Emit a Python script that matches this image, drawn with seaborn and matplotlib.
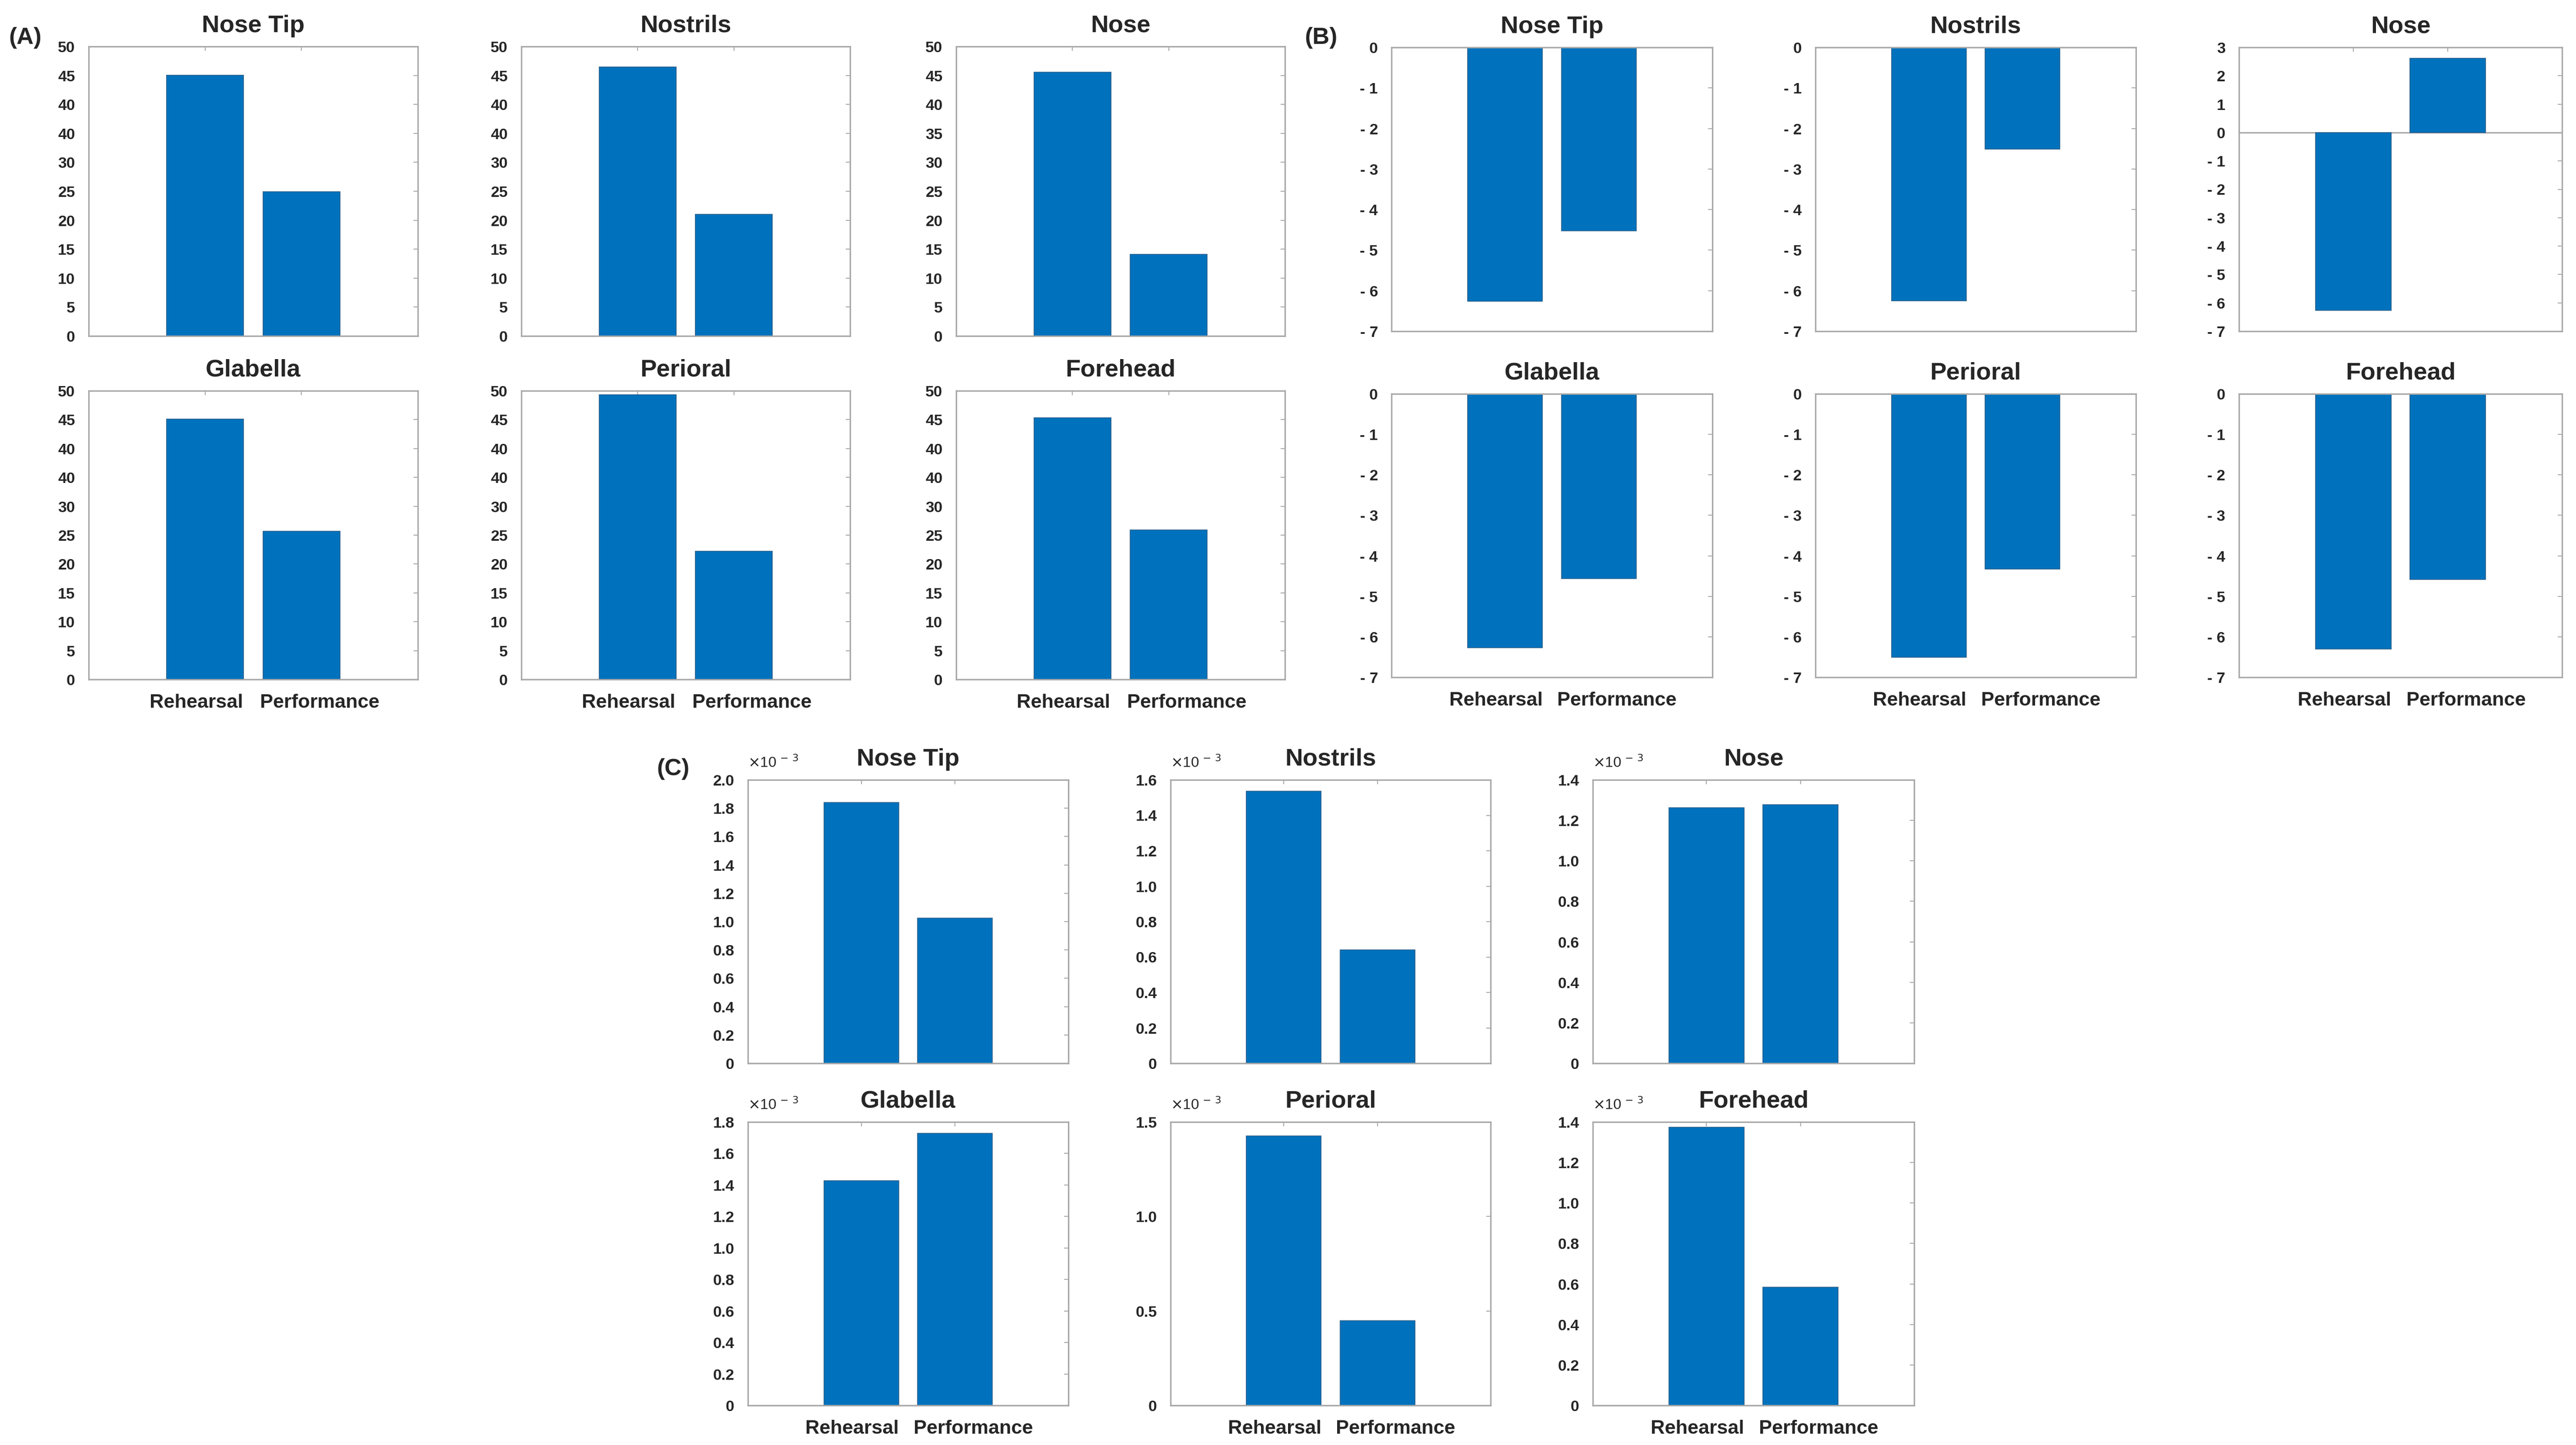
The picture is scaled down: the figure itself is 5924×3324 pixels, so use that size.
import numpy as np
import matplotlib
matplotlib.use("Agg")
import matplotlib.pyplot as plt
import matplotlib.transforms as mtransforms
import seaborn as sns

# ---- data ----
phases = ["Rehearsal", "Performance"]
regions = ["Nose Tip", "Nostrils", "Nose", "Glabella", "Perioral", "Forehead"]

a_rehearsal = [45.05, 46.5, 45.6, 45.1, 49.35, 45.3]
a_performance = [24.9, 21.0, 14.1, 25.7, 22.2, 25.9]

b_rehearsal = [-6.26, -6.25, -6.27, -6.27, -6.51, -6.30]
b_performance = [-4.52, -2.51, 2.62, -4.56, -4.33, -4.58]

c_rehearsal = [1.842e-3, 1.537e-3, 1.262e-3, 1.427e-3, 1.427e-3, 1.374e-3]
c_performance = [1.025e-3, 0.641e-3, 1.277e-3, 1.727e-3, 0.448e-3, 0.585e-3]

# y tick labels as printed in the figure (panel A has "40" twice where 35 sits)
a_ticks = [0, 5, 10, 15, 20, 25, 30, 35, 40, 45, 50]
a_labels = {
    "Nose Tip": ["0", "5", "10", "15", "20", "25", "30", "40", "40", "45", "50"],
    "Nostrils": ["0", "5", "10", "15", "20", "25", "30", "40", "40", "45", "50"],
    "Nose": ["0", "5", "10", "15", "20", "25", "30", "35", "40", "45", "50"],
    "Glabella": ["0", "5", "10", "15", "20", "25", "30", "40", "40", "45", "50"],
    "Perioral": ["0", "5", "10", "15", "20", "25", "30", "40", "40", "45", "50"],
    "Forehead": ["0", "5", "10", "15", "20", "25", "30", "40", "40", "45", "50"],
}
b_ticks_neg = [-7, -6, -5, -4, -3, -2, -1, 0]
b_labels_neg = ["- 7", "- 6", "- 5", "- 4", "- 3", "- 2", "- 1", "0"]
b_ticks_nose = [-7, -6, -5, -4, -3, -2, -1, 0, 1, 2, 3]
b_labels_nose = ["- 7", "- 6", "- 5", "- 4", "- 3", "- 2", "- 1", "0", "1", "2", "3"]

c_ticks = {
    "Nose Tip": [0, 0.2, 0.4, 0.6, 0.8, 1.0, 1.2, 1.4, 1.6, 1.8, 2.0],
    "Nostrils": [0, 0.2, 0.4, 0.6, 0.8, 1.0, 1.2, 1.4, 1.6],
    "Nose": [0, 0.2, 0.4, 0.6, 0.8, 1.0, 1.2, 1.4],
    "Glabella": [0, 0.2, 0.4, 0.6, 0.8, 1.0, 1.2, 1.4, 1.6, 1.8],
    "Perioral": [0, 0.5, 1.0, 1.5],
    "Forehead": [0, 0.2, 0.4, 0.6, 0.8, 1.0, 1.2, 1.4],
}

BLUE = "#0072BD"
GREY = "#a8a8a8"

sns.set_style("white")
plt.rcParams["font.family"] = ["Liberation Sans", "DejaVu Sans"]

W, H = 5924, 3324
fig = plt.figure(figsize=(W / 300, H / 300), dpi=300)


def rect(left, right, top, bottom):
    return [left / W, 1 - bottom / H, (right - left) / W, (bottom - top) / H]


def draw_bar(ax, title, vals, ticks, labels, ylim, show_x):
    sns.barplot(x=phases, y=vals, ax=ax, color=BLUE, saturation=1, width=0.8,
                edgecolor="#2a5d8a", linewidth=0.4)
    ax.axhline(0, color=GREY, lw=0.8, zorder=0.5)
    ax.set_xlim(-1.21, 2.21)
    ax.set_ylim(*ylim)
    ax.set_yticks(ticks)
    ax.set_yticklabels(labels)
    ax.set_title(title, fontsize=13.5, fontweight="bold", pad=8)
    ax.set_xlabel("")
    ax.set_ylabel("")
    for sp in ax.spines.values():
        sp.set_color(GREY)
        sp.set_linewidth(0.8)
    ax.tick_params(axis="both", direction="in", length=2.5, width=0.5, color=GREY,
                   top=True, right=True)
    ax.tick_params(axis="y", labelsize=8.5, pad=7.5)
    ax.tick_params(axis="x", labelsize=10.8, pad=8, labelbottom=show_x)
    for t in ax.get_yticklabels() + ax.get_xticklabels():
        t.set_fontweight("bold")
    if show_x:
        # the two category labels sit pushed apart in the original
        shifts = [-5.0, 10.0]
        for lab, dx in zip(ax.get_xticklabels(), shifts):
            lab.set_transform(lab.get_transform() +
                              mtransforms.ScaledTranslation(dx / 72, 0, fig.dpi_scale_trans))


cols_left = [(204, 961), (1199, 1955), (2199, 2955)]
cols_right = [(3200, 3938), (4175, 4912), (5149, 5892)]
cols_c = [(1720, 2457), (2692, 3428), (3663, 4402)]

rows_a = [(107, 773), (899, 1563)]
rows_b = [(109, 762), (906, 1558)]
rows_c = [(1794, 2446), (2581, 3233)]

for i, region in enumerate(regions):
    r, c = divmod(i, 3)
    show_x = r == 1

    # (A)
    ax = fig.add_axes(rect(cols_left[c][0], cols_left[c][1], rows_a[r][0], rows_a[r][1]))
    draw_bar(ax, region, [a_rehearsal[i], a_performance[i]], a_ticks, a_labels[region],
             (0, 50), show_x)

    # (B)
    ax = fig.add_axes(rect(cols_right[c][0], cols_right[c][1], rows_b[r][0], rows_b[r][1]))
    if region == "Nose":
        draw_bar(ax, region, [b_rehearsal[i], b_performance[i]], b_ticks_nose,
                 b_labels_nose, (-7, 3), show_x)
    else:
        draw_bar(ax, region, [b_rehearsal[i], b_performance[i]], b_ticks_neg,
                 b_labels_neg, (-7, 0), show_x)

    # (C)
    ax = fig.add_axes(rect(cols_c[c][0], cols_c[c][1], rows_c[r][0], rows_c[r][1]))
    ticks = c_ticks[region]
    labels = ["0" if v == 0 else f"{v:.1f}" for v in ticks]
    draw_bar(ax, region, [c_rehearsal[i], c_performance[i]],
             [v * 1e-3 for v in ticks], labels, (0, ticks[-1] * 1e-3), show_x)
    ax.text(0.0, 1.06, r"$\times$10$^{\,-\,3}$", transform=ax.transAxes,
            fontsize=8, ha="left", va="center")

# panel letters
fig.text(20 / W, 1 - 87 / H, "(A)", fontsize=13, fontweight="bold", ha="left", va="center")
fig.text(3000 / W, 1 - 87 / H, "(B)", fontsize=13, fontweight="bold", ha="left", va="center")
fig.text(1510 / W, 1 - 1769 / H, "(C)", fontsize=13, fontweight="bold", ha="left", va="center")

fig.savefig("out.png", dpi=300, facecolor="white")
